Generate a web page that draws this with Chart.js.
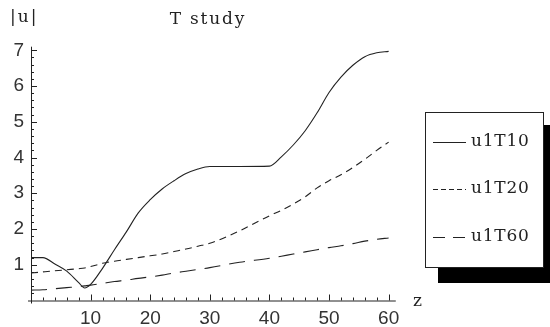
<!DOCTYPE html>
<html>
<head>
<meta charset="utf-8">
<script src="https://cdn.jsdelivr.net/npm/chart.js@4/dist/chart.umd.min.js"></script>
<style>
html,body{margin:0;padding:0;background:#fff;}
canvas{display:block;}
</style>
</head>
<body>
<canvas id="c" width="550" height="327"></canvas>
<script>
const zValues = [0,2,4,6,8,9,10,12,14,16,18,20,22,24,26,28,30,35,40,42,44,46,48,50,52,54,56,58,60];
const u1T10 = [1.2,1.2,1.02,0.82,0.5,0.35,0.45,0.9,1.42,1.92,2.45,2.82,3.12,3.35,3.55,3.68,3.75,3.75,3.76,4.02,4.35,4.75,5.25,5.82,6.25,6.58,6.82,6.93,6.97];
const u1T20 = [0.77,0.8,0.83,0.86,0.89,0.91,0.95,1.04,1.1,1.15,1.2,1.25,1.3,1.37,1.44,1.52,1.6,1.95,2.37,2.52,2.7,2.9,3.15,3.35,3.52,3.72,3.95,4.2,4.43];
const u1T60 = [0.29,0.3,0.33,0.36,0.39,0.41,0.43,0.48,0.53,0.57,0.62,0.66,0.71,0.77,0.82,0.87,0.92,1.07,1.18,1.24,1.3,1.36,1.42,1.48,1.53,1.59,1.66,1.71,1.75];
const seriesNames = ['u1T10','u1T20','u1T60'];
const xTickLabels = [10,20,30,40,50,60];
const yTickLabels = [1,2,3,4,5,6,7];
const titleText = 'T study';
const yAxisTitle = '|u|';
const xAxisTitle = 'z';

const lineColor = '#222';
const dashes = [[], [7,5], [16,9]];
const legendDashes = [[], [5,3], [12,8]];
const serifFont = '"DejaVu Serif", "Liberation Serif", serif';

function pts(vals){ return zValues.map((z,i)=>({x:z,y:vals[i]})); }

function spacedText(ctx, text, x, y, spacing){
  // draws text left-aligned at x with extra letter spacing
  let cx = x;
  for(const ch of text){
    ctx.fillText(ch, cx, y);
    cx += ctx.measureText(ch).width + spacing;
  }
  return cx - x - spacing;
}
function spacedWidth(ctx, text, spacing){
  let w = 0;
  for(const ch of text){ w += ctx.measureText(ch).width + spacing; }
  return w - spacing;
}

const axesPlugin = {
  id:'mmaAxes',
  afterDraw(chart){
    const ctx = chart.ctx;
    const xs = chart.scales.x, ys = chart.scales.y;
    const x0 = xs.getPixelForValue(0), y0 = ys.getPixelForValue(0);
    const xEnd = xs.getPixelForValue(61.2), yTop = ys.getPixelForValue(7.1);
    ctx.save();
    ctx.strokeStyle = '#222';
    ctx.lineWidth = 1;
    // axes
    ctx.beginPath();
    ctx.moveTo(x0+0.5, y0+3); ctx.lineTo(x0+0.5, yTop);
    ctx.moveTo(x0-3, y0+0.5); ctx.lineTo(xEnd, y0+0.5);
    ctx.stroke();
    // x ticks
    ctx.beginPath();
    for(let z=2; z<=60; z+=2){
      const px = Math.round(xs.getPixelForValue(z))+0.5;
      const len = (z%10===0)?6:3;
      ctx.moveTo(px, y0); ctx.lineTo(px, y0-len);
    }
    // y ticks
    for(let k=1;k<=35;k++){
      const v = k*0.2;
      const py = Math.round(ys.getPixelForValue(v))+0.5;
      const len = (k%5===0)?6:3;
      ctx.moveTo(x0, py); ctx.lineTo(x0+len, py);
    }
    ctx.stroke();
    // tick labels
    ctx.fillStyle = '#333';
    ctx.font = '19px "Liberation Sans", Arial, sans-serif';
    ctx.textAlign = 'center'; ctx.textBaseline = 'middle';
    xTickLabels.forEach(v=>{ ctx.fillText(String(v), xs.getPixelForValue(v), y0+18); });
    ctx.textAlign = 'right';
    yTickLabels.forEach(v=>{ ctx.fillText(String(v), x0-7, ys.getPixelForValue(v)); });
    // titles
    ctx.font = '17px ' + serifFont;
    ctx.fillStyle = '#222';
    ctx.textAlign = 'left';
    const tw = spacedWidth(ctx, titleText, 1.8);
    spacedText(ctx, titleText, 207 - tw/2, 20, 1.8);
    spacedText(ctx, yAxisTitle, 10, 18, 2);
    ctx.fillText(xAxisTitle, 413, 302);
    // legend
    ctx.fillStyle = '#000';
    ctx.fillRect(438,125,112,158);
    ctx.fillStyle = '#fff';
    ctx.fillRect(425,112,119,156);
    ctx.strokeStyle = '#222';
    ctx.strokeRect(425.5,112.5,118,155);
    const ey = [142,189,237];
    ctx.font = '17px ' + serifFont;
    seriesNames.forEach((n,i)=>{
      ctx.setLineDash(legendDashes[i]);
      ctx.beginPath();
      ctx.moveTo(433, ey[i]+0.5); ctx.lineTo(466, ey[i]+0.5);
      ctx.stroke();
      ctx.setLineDash([]);
      ctx.fillStyle = '#222';
      spacedText(ctx, n, 471, ey[i], 0.8);
    });
    ctx.restore();
  }
};

new Chart(document.getElementById('c'), {
  type:'line',
  data:{
    datasets: seriesNames.map((n,i)=>({
      label:n,
      data: pts([u1T10,u1T20,u1T60][i]),
      borderColor: lineColor,
      borderWidth: 1.1,
      borderDash: dashes[i],
      pointRadius: 0,
      fill:false,
      cubicInterpolationMode:'monotone'
    }))
  },
  options:{
    responsive:false,
    animation:false,
    layout:{padding:{left:31, top:46.7, right:155.4, bottom:26.5}},
    plugins:{legend:{display:false}, title:{display:false}, tooltip:{enabled:false}},
    scales:{
      x:{type:'linear', min:0, max:61, display:false},
      y:{type:'linear', min:0, max:7.1, display:false}
    }
  },
  plugins:[axesPlugin]
});
</script>
</body>
</html>
